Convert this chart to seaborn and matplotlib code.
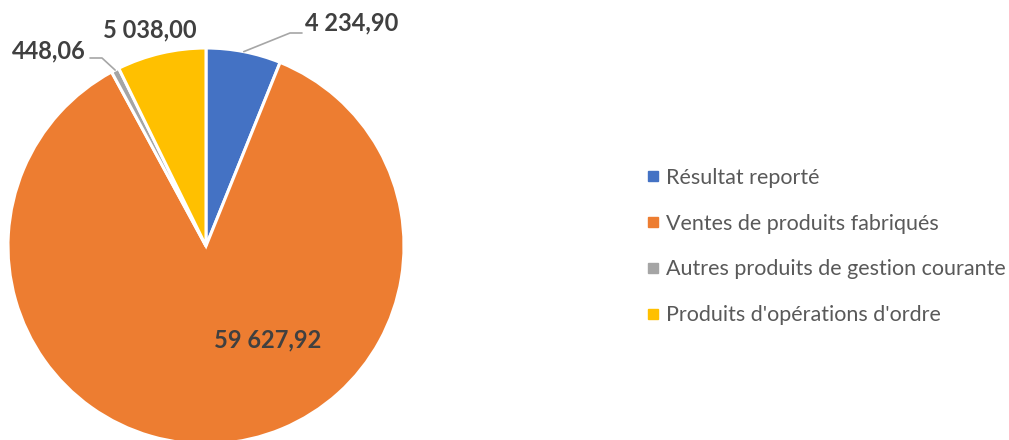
import numpy as np
import matplotlib
matplotlib.use("Agg")
import matplotlib.pyplot as plt
from matplotlib.lines import Line2D
import seaborn as sns

categories = ["Résultat reporté", "Ventes de produits fabriqués",
              "Autres produits de gestion courante", "Produits d'opérations d'ordre"]
values = [4234.90, 59627.92, 448.06, 5038.00]
colors = ["#4472C4", "#ED7D31", "#A5A5A5", "#FFC000"]

sns.set_theme(style="white")
plt.rcParams['font.family'] = ['Lato', 'DejaVu Sans']

def fr(v):
    s = f"{v:,.2f}"
    return s.replace(",", " ").replace(".", ",")

W, H = 1009, 440
fig = plt.figure(figsize=(W / 100, H / 100), dpi=100)
cx, cy, R = 206, 246, 198
ax = fig.add_axes([(cx - R) / W, (H - cy - R) / H, 2 * R / W, 2 * R / H])

wedges, _ = ax.pie(values, colors=colors, startangle=90, counterclock=False,
                   radius=1, wedgeprops=dict(edgecolor="white", linewidth=2.2))
ax.set_xlim(-1, 1)
ax.set_ylim(-1, 1)
ax.set_aspect("equal")
ax.axis("off")

def px(x, y):
    return ((x - cx) / R, (cy - y) / R)

txt = "#404040"
lab_kw = dict(fontsize=17, fontweight="bold", color=txt, clip_on=False)

mids = [np.deg2rad((w.theta1 + w.theta2) / 2) for w in wedges]

# Blue label with leader
e = (np.cos(mids[0]), np.sin(mids[0]))
p1 = px(290, 33); p2 = px(302, 33)
ax.plot([e[0], p1[0], p2[0]], [e[1], p1[1], p2[1]], color="#A6A6A6", lw=1.2, clip_on=False)
ax.text(*px(305, 23), fr(values[0]), ha="left", va="center", **lab_kw)

# Orange label inside
ax.text(*px(268, 340), fr(values[1]), ha="center", va="center", **lab_kw)

# Gray label with leader
e = (np.cos(mids[2]), np.sin(mids[2]))
p1 = px(102, 58); p2 = px(90, 58)
ax.plot([e[0], p1[0], p2[0]], [e[1], p1[1], p2[1]], color="#A6A6A6", lw=1.2, clip_on=False)
ax.text(*px(86, 51), fr(values[2]), ha="right", va="center", **lab_kw)

# Yellow label
ax.text(*px(150, 30), fr(values[3]), ha="center", va="center", **lab_kw)

handles = [Line2D([0], [0], marker="s", linestyle="none", markersize=6.5,
                  markerfacecolor=c, markeredgecolor=c) for c in colors]
fig.legend(handles, categories, loc="center left",
           bbox_to_anchor=(637 / W, (H - 246.5) / H), frameon=False,
           fontsize=15.5, labelcolor="#595959", labelspacing=1.2,
           handlelength=0.5, handletextpad=0.35, borderpad=0)

fig.savefig("out.png", dpi=100)
